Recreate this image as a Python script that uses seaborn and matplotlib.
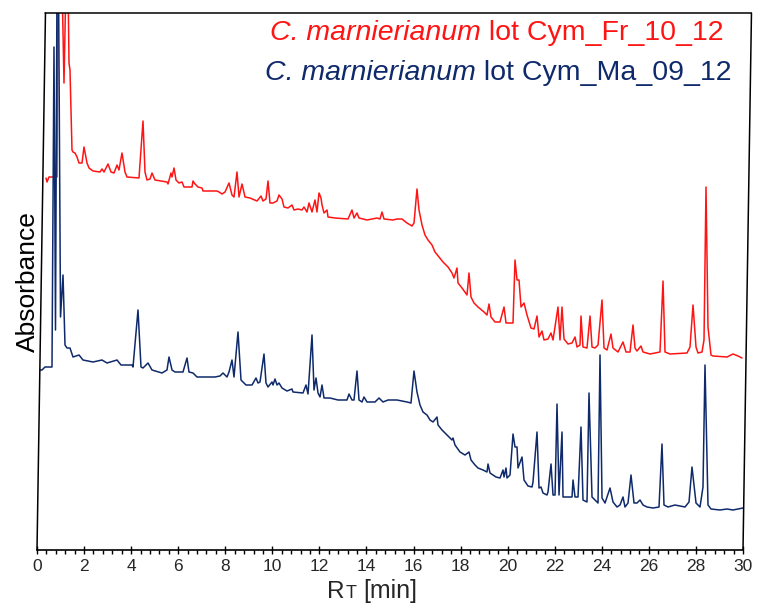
import numpy as np
import pandas as pd
import matplotlib
matplotlib.use("Agg")
import matplotlib.pyplot as plt
from matplotlib.ticker import MultipleLocator
import seaborn as sns

# ---------------- data (retention time [min], absorbance [a.u.]) ----------------
red_t = [0.382, 0.425, 0.510, 0.850, 0.892, 1.062, 1.147, 1.232, 1.317, 1.360, 1.402, 1.445, 1.487,
         1.530, 1.615, 1.700, 1.785, 1.912, 1.997, 2.125, 2.210, 2.380, 2.677, 2.762, 2.847, 3.017,
         3.145, 3.272, 3.400, 3.484, 3.612, 3.739, 3.824, 4.334, 4.504, 4.589, 4.674, 4.802, 4.887,
         5.014, 5.524, 5.567, 5.694, 5.737, 5.822, 5.907, 6.034, 6.162, 6.247, 6.586, 6.629, 6.714,
         6.841, 7.011, 7.054, 7.649, 7.734, 7.861, 7.989, 8.159, 8.286, 8.371, 8.499, 8.584, 8.711,
         8.839, 9.051, 9.349, 9.519, 9.603, 9.731, 9.816, 9.901, 10.028, 10.198, 10.283, 10.411,
         10.496, 10.666, 10.836, 10.921, 11.091, 11.261, 11.346, 11.473, 11.558, 11.686, 11.813,
         11.898, 11.983, 12.068, 12.111, 12.196, 12.323, 12.366, 12.663, 13.215, 13.385, 13.470,
         13.598, 13.683, 14.023, 14.448, 14.575, 14.660, 14.745, 15.128, 15.298, 15.510, 15.722,
         15.935, 16.020, 16.147, 16.232, 16.360, 16.487, 16.615, 16.785, 16.912, 17.082, 17.252,
         17.465, 17.635, 17.720, 17.847, 17.890, 18.060, 18.272, 18.357, 18.442, 18.570, 18.740,
         18.995, 19.122, 19.207, 19.292, 19.462, 19.675, 19.845, 19.930, 20.227, 20.312, 20.397,
         20.482, 20.567, 20.694, 20.822, 20.992, 21.119, 21.247, 21.332, 21.459, 21.544, 21.714,
         21.842, 21.927, 22.139, 22.224, 22.309, 22.394, 22.564, 22.734, 22.862, 22.946, 23.074,
         23.116, 23.201, 23.371, 23.499, 23.584, 23.711, 23.839, 24.009, 24.094, 24.221, 24.391,
         24.476, 24.689, 24.901, 25.029, 25.199, 25.326, 25.411, 25.496, 25.666, 25.751, 26.049,
         26.473, 26.601, 26.686, 26.898, 27.621, 27.748, 27.876, 28.003, 28.088, 28.258, 28.343,
         28.428, 28.513, 28.640, 28.725, 29.320, 29.575, 29.788, 29.958]
red_v = [74.4, 73.6, 74.6, 74.6, 114, 114, 93.4, 114, 114, 97.4, 96.0, 88.0, 80.0,
         79.6, 79.4, 78.6, 77.4, 77.4, 80.6, 77.4, 76.4, 75.8, 75.6, 76.2, 75.6, 77.2,
         75.6, 75.4, 77.0, 76.0, 79.4, 75.6, 74.6, 74.4, 85.8, 75.6, 74.0, 74.2, 75.4,
         74.0, 73.6, 73.2, 75.4, 74.6, 76.4, 74.0, 73.4, 73.6, 72.6, 72.6, 73.8, 73.2,
         72.6, 72.4, 71.8, 71.8, 71.6, 71.2, 71.6, 73.4, 71.0, 70.6, 75.6, 70.6, 73.2,
         70.6, 70.4, 69.8, 70.8, 69.8, 70.2, 73.8, 69.4, 69.4, 69.8, 71.0, 70.2,
         68.6, 68.4, 69.0, 68.0, 68.2, 68.0, 68.6, 67.6, 69.4, 67.6, 70.0,
         67.6, 71.4, 70.4, 69.0, 67.4, 68.0, 66.6, 66.4, 66.2, 68.0, 66.4,
         67.4, 66.4, 66.0, 66.4, 66.2, 67.6, 66.2, 66.0, 66.2, 66.2, 65.4,
         64.8, 65.4, 72.2, 68.0, 65.0, 63.0, 62.0, 61.0, 59.6, 58.6, 57.6,
         56.6, 55.4, 54.4, 56.4, 53.4, 52.4, 51.0, 55.4, 50.6, 49.4, 48.6,
         47.6, 47.0, 49.2, 46.6, 45.6, 45.6, 48.6, 45.4, 45.4, 58.0, 54.0,
         54.0, 48.6, 49.4, 47.0, 44.4, 44.2, 46.8, 42.6, 43.8, 42.0, 42.2,
         43.4, 42.0, 48.6, 42.0, 48.6, 42.2, 41.2, 41.4, 42.6, 40.6, 41.0,
         46.8, 40.6, 40.4, 46.8, 40.6, 40.4, 41.0, 50.0, 40.4, 40.0, 43.2,
         40.4, 39.6, 41.6, 39.6, 39.6, 45.0, 40.4, 39.8, 40.8, 39.6, 39.2,
         39.6, 53.8, 39.6, 39.2, 39.4, 40.6, 49.0, 40.6, 39.4, 39.6, 42.0,
         72.6, 44.6, 39.0, 38.8, 38.6, 39.2, 38.8, 38.4]

blue_t = [0.127, 0.212, 0.340, 0.637, 0.722, 0.786, 0.850, 0.914, 0.999, 1.105, 1.190, 1.275,
          1.402, 1.530, 1.785, 1.955, 2.380, 2.762, 2.975, 3.400, 3.569, 4.037, 4.079, 4.292,
          4.419, 4.504, 4.717, 4.887, 5.312, 5.524, 5.609, 5.737, 5.864, 6.204, 6.374, 6.459,
          6.629, 6.799, 7.564, 7.776, 7.904, 8.074, 8.159, 8.286, 8.371, 8.541, 8.669, 8.881,
          9.136, 9.306, 9.391, 9.476, 9.646, 9.731, 9.816, 9.986, 10.028, 10.113, 10.198,
          10.283, 10.411, 10.623, 10.836, 10.878, 11.303, 11.431, 11.516, 11.686, 11.771,
          11.856, 11.941, 12.026, 12.111, 12.196, 12.451, 12.791, 13.173, 13.258, 13.385,
          13.470, 13.598, 13.683, 13.810, 13.895, 14.023, 14.363, 14.533, 14.703, 14.915,
          15.298, 15.722, 15.892, 16.020, 16.147, 16.275, 16.402, 16.572, 16.700, 16.827,
          16.997, 17.040, 17.210, 17.422, 17.635, 17.677, 17.762, 17.975, 18.187, 18.357,
          18.442, 18.612, 18.740, 18.952, 19.122, 19.165, 19.250, 19.377, 19.505, 19.675,
          19.802, 19.845, 19.930, 19.972, 20.100, 20.227, 20.312, 20.397, 20.440, 20.610,
          20.694, 20.864, 21.034, 21.077, 21.247, 21.332, 21.417, 21.502, 21.672, 21.714,
          21.842, 21.927, 22.012, 22.097, 22.182, 22.309, 22.352, 22.734, 22.777, 22.862,
          22.989, 23.116, 23.201, 23.371, 23.456, 23.584, 23.711, 23.839, 23.924, 24.009,
          24.137, 24.221, 24.349, 24.476, 24.646, 24.774, 24.901, 24.986, 25.114, 25.241,
          25.369, 25.496, 25.624, 25.751, 25.921, 26.176, 26.431, 26.558, 26.643, 26.813,
          27.111, 27.323, 27.536, 27.706, 27.833, 28.003, 28.173, 28.300, 28.385, 28.513,
          28.640, 29.022, 29.320, 29.575, 30.000]
blue_v = [36.0, 36.0, 36.6, 36.6, 100.6, 44.0, 114, 114, 46.6, 55.0, 41.0, 40.4,
          40.4, 38.6, 39.0, 38.0, 37.6, 38.0, 37.4, 38.0, 37.0, 37.0, 36.6, 48.0,
          36.6, 36.4, 37.4, 36.0, 35.4, 36.0, 38.6, 36.0, 35.6, 35.6, 38.4, 35.6,
          35.4, 34.6, 34.6, 34.8, 35.4, 34.6, 35.6, 38.0, 34.6, 43.6, 34.0, 33.0,
          33.0, 34.4, 33.4, 33.6, 39.2, 33.4, 32.6, 33.6, 33.0, 34.2, 33.0,
          33.4, 32.4, 31.8, 32.2, 31.6, 31.4, 33.0, 31.2, 43.0, 32.0,
          34.4, 31.4, 30.6, 33.0, 30.4, 30.4, 30.0, 30.0, 31.2, 30.0,
          30.0, 35.8, 30.0, 29.6, 30.6, 29.6, 29.6, 30.4, 29.6, 30.0,
          30.0, 29.6, 29.4, 35.8, 31.6, 29.0, 27.6, 27.0, 26.0, 25.6,
          26.6, 25.0, 24.0, 23.0, 22.0, 22.4, 21.0, 19.6, 19.0, 19.6,
          18.0, 17.0, 16.4, 16.0, 15.6, 17.2, 15.4, 15.0, 14.6, 14.4,
          16.0, 14.6, 16.4, 14.4, 15.0, 23.2, 20.6, 20.6, 16.4, 18.6,
          14.0, 12.8, 12.6, 13.6, 23.6, 12.4, 12.6, 11.4, 11.0, 11.6,
          17.2, 11.0, 11.0, 29.2, 11.0, 23.6, 10.6, 10.6, 14.0, 10.6,
          10.6, 24.6, 10.0, 9.6, 31.4, 10.6, 10.0, 9.4, 39.0, 10.4,
          9.4, 10.6, 12.4, 9.6, 8.6, 9.0, 10.6, 8.6, 9.4, 15.0,
          9.4, 9.4, 10.0, 9.0, 8.6, 8.4, 8.6, 21.2, 9.0, 8.6,
          9.0, 8.8, 8.6, 9.6, 16.6, 9.4, 8.6, 12.6, 37.0, 9.0,
          8.2, 8.0, 8.2, 8.0, 8.4]

series_names = ["Cym_Fr_10_12", "Cym_Ma_09_12"]
series_colors = ["#ff1414", "#0f2a6b"]
species = "C. marnierianum"
x_ticks = list(range(0, 31, 2))

# ---------------- figure ----------------
sns.set_theme(style="white")
plt.rcParams["font.family"] = ["Liberation Sans", "DejaVu Sans"]

df = pd.concat([
    pd.DataFrame({"t": red_t, "v": red_v, "series": series_names[0]}),
    pd.DataFrame({"t": blue_t, "v": blue_v, "series": series_names[1]}),
], ignore_index=True)

fig = plt.figure(figsize=(7.59, 6.06), dpi=100)
ax = fig.add_axes([37 / 759, 56 / 606, 706 / 759, 537 / 606])

sns.lineplot(data=df, x="t", y="v", hue="series", palette=dict(zip(series_names, series_colors)),
             sort=False, estimator=None, legend=False, linewidth=1.1, ax=ax)

ax.set_xlim(0, 30)
ax.set_ylim(0, 107.4)
ax.set_xticks(x_ticks)
ax.set_xticklabels([str(v) for v in x_ticks])
ax.xaxis.set_minor_locator(MultipleLocator(0.4))
ax.set_yticks([])
ax.tick_params(axis="x", which="major", direction="inout", length=6, width=1.0,
               labelsize=12.5, pad=3.5, color="black", bottom=True)
ax.tick_params(axis="x", which="minor", direction="out", length=3, width=1.0,
               color="black", bottom=True)
for side in ["left", "right", "top"]:
    ax.spines[side].set_visible(False)
ax.spines["bottom"].set_color("black")
ax.spines["bottom"].set_linewidth(1.2)

# slanted frame (left, right, top)
sk = 0.012
frame_kw = dict(transform=ax.transAxes, color="black", lw=1.1, clip_on=False)
ax.plot([0, sk], [0, 1], **frame_kw)
ax.plot([1, 1 + sk], [0, 1], **frame_kw)
ax.plot([sk, 1 + sk], [1, 1], **frame_kw)

ax.set_xlabel("")
ax.set_ylabel("Absorbance", fontsize=19, color="black")
ax.yaxis.set_label_coords(0.004, 0.499)

fig.canvas.draw()
renderer = fig.canvas.get_renderer()

# x label "RT [min]" with small-cap T, pieces chained one after another
base_y = 1 - 598 / 606
x_px = 327.0
for piece, size, gap in [("R", 17.5, 1.0), ("T", 13, 7.0), ("[min]", 18, 0.0)]:
    txt = fig.text(x_px / 759, base_y, piece, fontsize=size, ha="left", va="baseline")
    bb = txt.get_window_extent(renderer)
    x_px = bb.x1 + gap


# legend texts: italic species name + upright lot name, centred as one line
def legend_line(center_px, baseline_px, lot, color, size=20.5):
    it = fig.text(0, 1 - baseline_px / 606, species, fontsize=size, fontstyle="italic",
                  color=color, ha="left", va="baseline")
    rest = fig.text(0, 1 - baseline_px / 606, "\u00a0lot " + lot, fontsize=size,
                    color=color, ha="left", va="baseline")
    w_it = it.get_window_extent(renderer).width
    w_rest = rest.get_window_extent(renderer).width
    left = center_px - (w_it + w_rest) / 2
    it.set_x(left / 759)
    rest.set_x((left + w_it) / 759)


legend_line(497, 39.5, series_names[0], series_colors[0])
legend_line(498, 79.5, series_names[1], series_colors[1])

fig.savefig("out.png", dpi=100)
